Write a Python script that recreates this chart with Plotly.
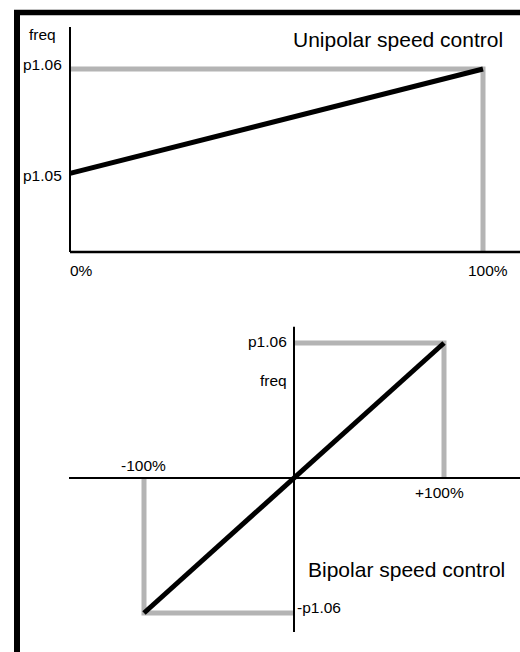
import plotly.graph_objects as go

# ---------------- data ----------------
# Unipolar: input 0..100 % -> frequency p1.05 .. p1.06 (normalised to p1.06 = 1)
P105 = 0.43
P106 = 1.0
pct_unipolar = [0, 100]
freq_unipolar = [P105, P106]

# Bipolar: input -100..+100 % -> frequency -p1.06 .. +p1.06
pct_bipolar = [-100, 0, 100]
freq_bipolar = [-P106, 0.0, P106]

uni_tick_labels = ["0%", "100%"]
bip_tick_labels = ["-100%", "+100%"]
uni_title = "Unipolar speed control"
bip_title = "Bipolar speed control"

# ---------------- layout geometry ----------------
W, H = 520, 652
FONT = "Liberation Sans, Arial, sans-serif"
BLACK = "#000000"
GREY = "#b4b4b4"
SMALL = 15.5
BIG = 21

# top panel: origin pixel and scale
T_OX, T_OY = 70, 252
T_SX, T_SY = 4.13, 183.0
T_TOP, T_BOT = 15, 300
# bottom panel
B_OX, B_OY = 294, 478
B_SX, B_SY = 1.5, 135.0
B_TOP, B_BOT = 300, 652

t_xr = [(0 - T_OX) / T_SX, (W - T_OX) / T_SX]
t_yr = [(T_OY - T_BOT) / T_SY, (T_OY - T_TOP) / T_SY]
b_xr = [(0 - B_OX) / B_SX, (W - B_OX) / B_SX]
b_yr = [(B_OY - B_BOT) / B_SY, (B_OY - B_TOP) / B_SY]

fig = go.Figure()


def line(x, y, color, width, xa="x", ya="y"):
    fig.add_trace(go.Scatter(x=x, y=y, mode="lines", xaxis=xa, yaxis=ya,
                             line=dict(color=color, width=width),
                             hoverinfo="skip", showlegend=False,
                             cliponaxis=False))


# ---- top panel: unipolar ----
line([pct_unipolar[0], pct_unipolar[1], pct_unipolar[1]],
     [P106, P106, 0], GREY, 5)
line([0, 0], [0, 1.23], BLACK, 2)
line([0, t_xr[1]], [0, 0], BLACK, 2.5)
line(pct_unipolar, freq_unipolar, BLACK, 5)

# ---- bottom panel: bipolar ----
line([0, pct_bipolar[2], pct_bipolar[2]], [P106, P106, 0], GREY, 5, "x2", "y2")
line([pct_bipolar[0], pct_bipolar[0], 0], [0, -P106, -P106], GREY, 5, "x2", "y2")
line([0, 0], [-1.14, 1.12], BLACK, 2, "x2", "y2")
line([-150, b_xr[1]], [0, 0], BLACK, 2, "x2", "y2")
line(pct_bipolar, freq_bipolar, BLACK, 5, "x2", "y2")


def label(text, x, y, xa="x", ya="y", xanchor="center", xshift=0, yshift=0,
          size=SMALL):
    fig.add_annotation(text=text, x=x, y=y, xref=xa, yref=ya,
                       xanchor=xanchor, yanchor="middle",
                       xshift=xshift, yshift=yshift, showarrow=False,
                       font=dict(family=FONT, size=size, color=BLACK))


# top labels
label("freq", 0, 1.19, xanchor="right", xshift=-12)
label("p1.06", 0, P106, xanchor="right", xshift=-6, yshift=4)
label("p1.05", 0, P105, xanchor="right", xshift=-6, yshift=-2)
label(uni_tick_labels[0], pct_unipolar[0], 0, xanchor="left", xshift=-2, yshift=-18)
label(uni_tick_labels[1], pct_unipolar[1], 0, xshift=5, yshift=-18)
fig.add_annotation(text=uni_title, x=505 / W, y=1 - 40 / H, xref="paper",
                   yref="paper", xanchor="right", yanchor="middle",
                   showarrow=False, font=dict(family=FONT, size=BIG, color=BLACK))

# bottom labels
label("p1.06", 0, P106, "x2", "y2", xanchor="right", xshift=-5, yshift=2)
label("freq", 0, 0.72, "x2", "y2", xanchor="right", xshift=-5)
label(bip_tick_labels[0], pct_bipolar[0], 0, "x2", "y2", xshift=-1, yshift=13)
label(bip_tick_labels[1], pct_bipolar[2], 0, "x2", "y2", xshift=-5, yshift=-14)
label("-p1.06", 0, -P106, "x2", "y2", xanchor="left", xshift=1, yshift=6)
fig.add_annotation(text=bip_title, x=306 / W, y=1 - 569 / H, xref="paper",
                   yref="paper", xanchor="left", yanchor="middle",
                   showarrow=False, font=dict(family=FONT, size=BIG, color=BLACK))

# frame (top and left edges)
fig.add_shape(type="line", xref="paper", yref="paper",
              x0=14 / W, x1=1, y0=1 - 12.5 / H, y1=1 - 12.5 / H,
              line=dict(color=BLACK, width=5.5))
fig.add_shape(type="line", xref="paper", yref="paper",
              x0=17 / W, x1=17 / W, y0=0, y1=1 - 10 / H,
              line=dict(color=BLACK, width=6))

hidden = dict(visible=False, fixedrange=True)
fig.update_layout(
    width=W, height=H, autosize=False,
    margin=dict(l=0, r=0, t=0, b=0, pad=0),
    paper_bgcolor="white", plot_bgcolor="rgba(0,0,0,0)",
    xaxis=dict(domain=[0, 1], range=t_xr, anchor="y", **hidden),
    yaxis=dict(domain=[1 - T_BOT / H, 1 - T_TOP / H], range=t_yr, anchor="x", **hidden),
    xaxis2=dict(domain=[0, 1], range=b_xr, anchor="y2", **hidden),
    yaxis2=dict(domain=[0, 1 - B_TOP / H], range=b_yr, anchor="x2", **hidden),
)

fig.write_html("out.html", config={"displayModeBar": False})
